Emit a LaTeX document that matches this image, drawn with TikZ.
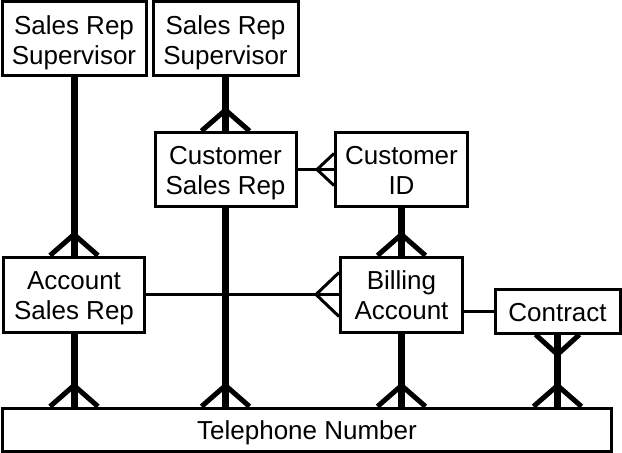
\documentclass[tikz,border=0pt]{standalone}
\usepackage{fontspec}
\setmainfont{Liberation Sans}

\tikzset{
	entity/.style={draw, line width=2.25pt, align=center, inner sep=0pt,
		font=\fontsize{19.5}{22.5}\selectfont, text height=15.5pt, text depth=0pt},
	twoline/.style={entity, minimum height=55.5pt, text height=38pt, text depth=0pt},
	rel/.style={line width=5.25pt},
	foot/.style={line width=3.75pt},
	link/.style={line width=2.25pt}
}

\begin{document}
\begin{tikzpicture}[x=0.75pt,y=-0.75pt]
	\useasboundingbox (0,0) rectangle (622,453);

	\node[twoline, minimum width=108pt] (sup1) at (74,39) {Sales Rep\\Supervisor};
	\node[twoline, minimum width=108.75pt] (sup2) at (225.5,39) {Sales Rep\\Supervisor};
	\node[twoline, minimum width=105.75pt] (csr) at (225.5,169.5) {Customer\\Sales Rep};
	\node[twoline, minimum width=99pt] (cid) at (401.5,169.5) {Customer\\ID};
	\node[twoline, minimum width=105.75pt, minimum height=56.25pt] (asr) at (74,294.5) {Account\\Sales Rep};
	\node[twoline, minimum width=91.5pt, minimum height=56.25pt] (ba) at (401.5,294.5) {Billing\\Account};
	\node[entity, minimum width=93.75pt, minimum height=33pt] (con) at (557.5,311) {Contract};
	\node[entity, minimum width=456.75pt, minimum height=32.25pt] (tel) at (307,429.5) {Telephone Number};

	% thin links
	\draw[link] (csr) -- (cid);
	\draw[link] (asr) -- (ba);
	\draw[link] (ba.east |- con.west) -- (con.west);
	\draw[link] (cid.west) ++(0,-16) -- ++(-17,16) -- ++(17,16);
	\draw[link] (ba.west) ++(0,-22) -- ++(-23,22) -- ++(23,22);

	% thick relations
	\draw[rel] (sup1) -- (asr);
	\draw[rel] (sup2) -- (csr);
	\draw[rel] (cid) -- (ba);
	\foreach \n in {asr,csr,ba,con}
		\draw[rel] (\n) -- (\n.south |- tel.north);

	\foreach \n in {asr,csr,ba}
		\draw[foot] (\n.north) ++(-24,0) -- ++(24,-21) -- ++(24,21);
	\foreach \n in {asr,csr,ba,con}
		\draw[foot] (\n.south |- tel.north) ++(-24,0) -- ++(24,-21) -- ++(24,21);
	\draw[foot] (con.south) ++(-22,0) -- ++(22,20) -- ++(22,-20);
\end{tikzpicture}
\end{document}
